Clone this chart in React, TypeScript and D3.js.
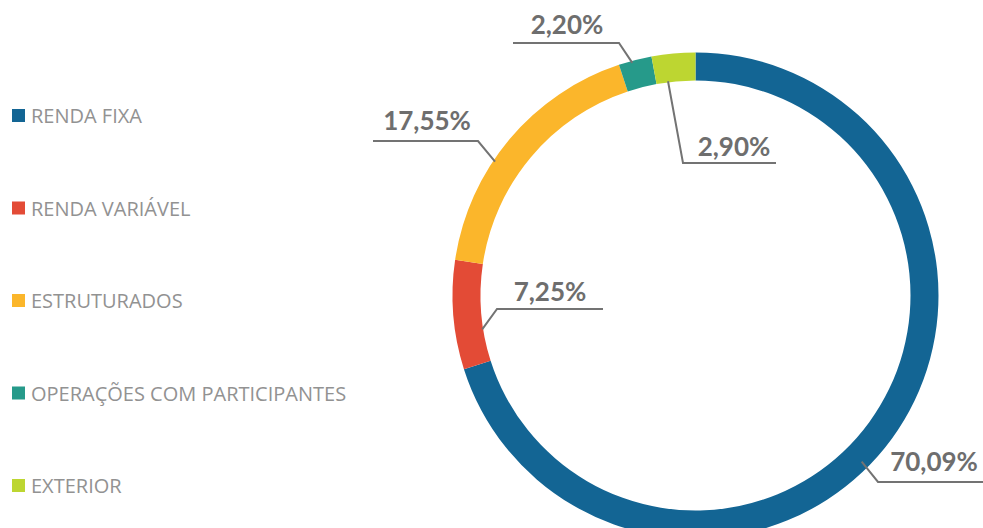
import React, { useEffect, useRef } from 'react';
import * as d3 from 'd3';

const categories = ['RENDA FIXA', 'RENDA VARIÁVEL', 'ESTRUTURADOS', 'OPERAÇÕES COM PARTICIPANTES', 'EXTERIOR'];
const values = [70.09, 7.25, 17.55, 2.2, 2.9];
const valueLabels = ['70,09%', '7,25%', '17,55%', '2,20%', '2,90%'];
const colors = ['#136594', '#e34b36', '#fbb62b', '#269a8a', '#bdd631'];

// label layout: where the leader starts along the slice, its elbow and the text spot
const labelLayout = [
  { f: 0.535, r: 235, elbow: [878, 482], endX: 983, tx: 934, ty: 471 },
  { f: 0.33, r: 216, elbow: [497, 309], endX: 603, tx: 550, ty: 301 },
  { f: 0.4, r: 241, elbow: [478, 141], endX: 373, tx: 427, ty: 130 },
  { f: 0.4, r: 241, elbow: [619, 43], endX: 513, tx: 567, ty: 34 },
  { f: 0.3, r: 216, elbow: [683, 163], endX: 776, tx: 734, ty: 156 },
];

const W = 983;
const H = 528;

const App: React.FC = () => {
  const svgRef = useRef<SVGSVGElement>(null);

  useEffect(() => {
    if (!svgRef.current) return;
    const svg = d3.select(svgRef.current);
    svg.selectAll('*').remove();

    const cx = 695.5;
    const cy = 295.5;
    const outerR = 243;
    const innerR = 215;

    const pie = d3.pie<number>().sort(null).value((d) => d);
    const arcs = pie(values);
    const arc = d3.arc<d3.PieArcDatum<number>>().innerRadius(innerR).outerRadius(outerR);

    const g = svg.append('g').attr('transform', `translate(${cx},${cy})`);
    g.selectAll('path')
      .data(arcs)
      .enter()
      .append('path')
      .attr('d', arc)
      .attr('fill', (_, i) => colors[i]);

    // leader lines + labels
    arcs.forEach((a, i) => {
      const l = labelLayout[i];
      const ang = a.startAngle + l.f * (a.endAngle - a.startAngle);
      const sx = cx + l.r * Math.sin(ang);
      const sy = cy - l.r * Math.cos(ang);
      const path = d3.path();
      path.moveTo(sx, sy);
      path.lineTo(l.elbow[0], l.elbow[1]);
      path.lineTo(l.endX, l.elbow[1]);
      svg
        .append('path')
        .attr('d', path.toString())
        .attr('fill', 'none')
        .attr('stroke', '#737373')
        .attr('stroke-width', 2);
      svg
        .append('text')
        .attr('x', l.tx)
        .attr('y', l.ty)
        .attr('text-anchor', 'middle')
        .attr('font-family', 'Lato')
        .attr('font-weight', 700)
        .attr('font-size', 26)
        .attr('fill', '#6e6e6e')
        .text(valueLabels[i]);
    });

    // legend
    const legendY = d3.scalePoint<string>().domain(categories).range([115.5, 485.5]);
    const leg = svg
      .append('g')
      .selectAll('g')
      .data(categories)
      .enter()
      .append('g')
      .attr('transform', (d) => `translate(12,${legendY(d)})`);
    leg
      .append('rect')
      .attr('x', 0)
      .attr('y', -6.5)
      .attr('width', 13)
      .attr('height', 13)
      .attr('fill', (_, i) => colors[i]);
    leg
      .append('text')
      .attr('x', 19)
      .attr('y', 7.5)
      .attr('font-family', 'Open Sans')
      .attr('font-size', 20)
      .attr('fill', '#929292')
      .text((d) => d);
  }, []);

  return (
    <div style={{ position: 'fixed', left: 0, top: 0, width: W, height: H, background: '#fff' }}>
      <svg ref={svgRef} width={W} height={H} style={{ display: 'block' }} />
    </div>
  );
};

export default App;
